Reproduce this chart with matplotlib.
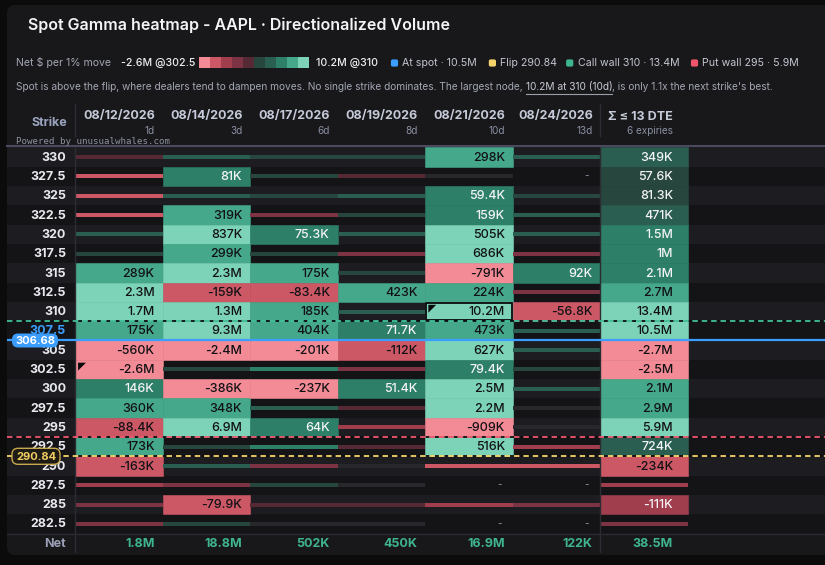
import numpy as np
import matplotlib.pyplot as plt
from matplotlib.colors import ListedColormap, BoundaryNorm
from matplotlib.patches import FancyBboxPatch, Rectangle, Polygon

plt.rcParams['font.family'] = ['Inter', 'DejaVu Sans']

K = 1e3
M = 1e6

# strikes top to bottom
strikes = [330, 327.5, 325, 322.5, 320, 317.5, 315, 312.5, 310, 307.5,
           305, 302.5, 300, 297.5, 295, 292.5, 290, 287.5, 285, 282.5]
expiries = ['08/12/2026', '08/14/2026', '08/17/2026', '08/19/2026', '08/21/2026', '08/24/2026']
dte = ['1d', '3d', '6d', '8d', '10d', '13d']

# net $ per 1% move, per strike (None = no contract)
exp_0812 = [-3*K, -35*K, -35*K, -35*K, 15*K, 5*K, 289*K, 2.3*M, 1.7*M, 175*K,
            -560*K, -2.6*M, 146*K, 360*K, -88.4*K, 173*K, -163*K, -18*K, -9*K, -8*K]
exp_0814 = [20*K, 81*K, 12*K, 319*K, 837*K, 299*K, 2.3*M, -159*K, 1.3*M, 9.3*M,
            -2.4*M, 5*K, -386*K, 348*K, 6.9*M, 5*K, 12*K, -9*K, -79.9*K, 4*K]
exp_0817 = [5*K, 5*K, 5*K, -10*K, 75.3*K, 6*K, 175*K, -83.4*K, 185*K, 404*K,
            -201*K, 35*K, -237*K, 15*K, 64*K, 35*K, -9*K, 4*K, -3*K, 0.5*K]
exp_0819 = [5*K, -4*K, 15*K, 5*K, 15*K, -10*K, 5*K, 423*K, 20*K, 71.7*K,
            -112*K, -10*K, 51.4*K, -3*K, -20*K, -3*K, 0.2*K, 0.3*K, -3*K, 0.2*K]
exp_0821 = [298*K, 0.1*K, 59.4*K, 159*K, 505*K, 686*K, -791*K, 224*K, 10.2*M, 473*K,
            627*K, 79.4*K, 2.5*M, 2.2*M, -909*K, 516*K, -35*K, None, -20*K, None]
exp_0824 = [15*K, None, 5*K, 20*K, 15*K, -10*K, 92*K, -10*K, -56.8*K, 15*K,
            15*K, 5*K, 15*K, 0.3*K, 0.4*K, -15*K, -30*K, None, -9*K, None]
sum_13dte = [349*K, 57.6*K, 81.3*K, 471*K, 1.5*M, 1*M, 2.08*M, 2.7*M, 13.4*M, 10.5*M,
             -2.7*M, -2.5*M, 2.12*M, 2.9*M, 5.9*M, 724*K, -234*K, -40*K, -111*K, -20*K]
net_by_col = [1.8*M, 18.8*M, 502*K, 450*K, 16.9*M, 122*K, 38.5*M]

spot = 306.68
flip = 290.84
call_wall = 310
put_wall = 295

# colour scale (-5 .. +5)
tones = ['#f28b96', '#cc5866', '#a03e4d', '#7c3343', '#562a35', '#27272c',
         '#26463e', '#2a5e50', '#2d7f67', '#45a88a', '#7dd3b8']
cmap = ListedColormap(tones)
grid_norm = BoundaryNorm([-1e12, -170e3, -25e3, -12e3, -6e3, -1e3, 1e3, 10e3, 30e3, 165e3, 490e3, 1e12], 11)
sum_norm = BoundaryNorm([-1e12, -1e6, -200e3, -30e3, -10e3, -1e3, 1e3, 200e3, 800e3, 2.1e6, 4e6, 1e12], 11)


def fmt(v):
    a = abs(v)
    s = '-' if v < 0 else ''
    if a >= 1e6:
        return s + f'{a/1e6:.1f}'.rstrip('0').rstrip('.') + 'M'
    if a >= 1e5:
        return s + f'{a/1e3:.0f}K'
    return s + f'{a/1e3:.1f}'.rstrip('0').rstrip('.') + 'K'


# layout (pixels)
W, H = 825, 565
col_w = 87.57
x_first = 75
top = 147.5
row_h = 19.3
n_rows = len(strikes)

fig = plt.figure(figsize=(W/100, H/100), dpi=100)
fig.patch.set_facecolor('#0b0b0c')

bg = fig.add_axes([0, 0, 1, 1])
bg.set_xlim(0, W)
bg.set_ylim(H, 0)
bg.axis('off')
bg.add_patch(FancyBboxPatch((7, 5), 840, 550, boxstyle='round,pad=0,rounding_size=8',
                            fc='#18181b', ec='none'))

# heatmap axes: x = column index, y = strike row index
gl, gr = 7, 825
ax = fig.add_axes([gl/W, 1 - (top + 21*row_h)/H, (gr-gl)/W, 21*row_h/H])
ax.set_xlim((gl - x_first)/col_w, (gr - x_first)/col_w)
ax.set_ylim(21, 0)
ax.axis('off')
ax.patch.set_alpha(0)
xl = ax.get_xlim()

# row stripes
rows = np.arange(n_rows)
ax.barh(rows + 0.5, xl[1] - xl[0], left=xl[0], height=1,
        color=['#1c1c21' if i % 2 == 0 else '#141417' for i in rows], lw=0)

columns = [exp_0812, exp_0814, exp_0817, exp_0819, exp_0821, exp_0824, sum_13dte]
for ci, vals in enumerate(columns):
    norm = sum_norm if ci == 6 else grid_norm
    pad = 15/col_w if ci == 6 else 8/col_w
    for ri, v in enumerate(vals):
        if v is None:
            ax.text(ci + 1 - pad - 0.04, ri + 0.5, '-', ha='right', va='center',
                    color='#8a8fa0', fontsize=7)
            continue
        idx = int(norm(v))
        c = tones[idx]
        if abs(v) >= 50*K:
            ax.barh(ri + 0.5, 1, left=ci, height=1, color=c, edgecolor=c, lw=0.4, zorder=2)
            tc = '#111114' if abs(idx - 5) >= 4 else '#f4f4f6'
            ax.text(ci + 1 - pad, ri + 0.53, fmt(v), ha='right', va='center',
                    color=tc, fontsize=9, fontweight='medium', zorder=4)
        else:
            ax.barh(ri + 0.5, 1, left=ci, height=0.21, color=c, lw=0, zorder=2)

# extremes in the expiry grid
grid = np.array([[np.nan if v is None else v for v in col] for col in columns[:6]])
cmax = np.unravel_index(np.nanargmax(grid), grid.shape)
cmin = np.unravel_index(np.nanargmin(grid), grid.shape)
ax.add_patch(Rectangle((cmax[0] + 0.012, cmax[1] + 0.06), 0.976, 0.88, fill=False,
                       ec='#0a0a0a', lw=1.3, zorder=5))
for ci, ri in (cmax, cmin):
    ax.add_patch(Polygon([(ci + 0.035, ri + 0.15), (ci + 0.125, ri + 0.15), (ci + 0.035, ri + 0.56)],
                         closed=True, fc='#0a0a0a', ec='none', zorder=5))

# separators
ax.vlines([0, 6], 0, 21, color='#2c2c33', lw=1, zorder=3)
ax.axhline(20, color='#2a2a30', lw=1, zorder=3)


def boundary(level):
    return sum(s >= level for s in strikes)


spot_row = boundary(spot) - 1
for ri, s in enumerate(strikes):
    ax.text(-9/col_w, ri + 0.53, f'{s:g}', ha='right', va='center', fontsize=9, fontweight='bold',
            color='#3b9eff' if ri == spot_row else '#e8e9ee', zorder=4)

ax.text(-9/col_w, 20.53, 'Net', ha='right', va='center', fontsize=9, fontweight='bold', color='#9aa0b6')
for ci, v in enumerate(net_by_col):
    pad = 15/col_w if ci == 6 else 8/col_w
    ax.text(ci + 1 - pad, 20.53, fmt(v), ha='right', va='center', fontsize=9,
            fontweight='bold', color='#3fb58f')

# level lines
ax.axhline(boundary(call_wall), color='#3fbf98', lw=1.3, ls=(0, (3, 2.2)), gapcolor='#0f0f11', zorder=6)
ax.axhline(boundary(put_wall), color='#f0566c', lw=1.3, ls=(0, (3, 2.2)), gapcolor='#0f0f11', zorder=6)
ax.axhline(boundary(flip), color='#f5d36a', lw=1.3, ls=(0, (3, 2.2)), gapcolor='#0f0f11', zorder=6)
ax.axhline(boundary(spot), color='#3b9eff', lw=1.6, zorder=6)

# overlay for text in pixel coordinates
ov = fig.add_axes([0, 0, 1, 1])
ov.set_xlim(0, W)
ov.set_ylim(H, 0)
ov.axis('off')
ov.patch.set_alpha(0)

# pills
sy = top + boundary(spot)*row_h
ov.add_patch(FancyBboxPatch((12, sy - 7), 46, 14, boxstyle='round,pad=0,rounding_size=6',
                            fc='#3b9eff', ec='none', zorder=8))
ov.text(35, sy + 0.5, f'{spot:.2f}', ha='center', va='center', color='white',
        fontsize=8, fontweight='bold', zorder=9)
fy = top + boundary(flip)*row_h
ov.add_patch(FancyBboxPatch((12, fy - 8), 48, 16, boxstyle='round,pad=0,rounding_size=6',
                            fc='#1d1b14', ec='#c9a94e', lw=1, zorder=8))
ov.text(36, fy + 0.5, f'{flip:.2f}', ha='center', va='center', color='#f2cd63',
        fontsize=8, fontweight='bold', zorder=9)

# title
ov.text(27.5, 25, 'Spot Gamma heatmap - AAPL · Directionalized Volume', ha='left', va='center',
        fontsize=11.5, fontweight='semibold', color='#f4f4f6')

# legend row
ly = 63
ov.text(16, ly, 'Net $ per 1% move', ha='left', va='center', fontsize=7.6, color='#a3a7b3')
ov.text(121, ly, f'{fmt(np.nanmin(grid))} @{strikes[cmin[1]]:g}', ha='left', va='center',
        fontsize=7.6, fontweight='medium', color='#f0f0f2')
legend_tones = tones[:5] + tones[6:]
ov.bar(199 + 11*np.arange(10) + 5.5, 11.4, width=11, bottom=57, color=legend_tones, lw=0)
ov.text(316, ly, f'{fmt(np.nanmax(grid))} @{strikes[cmax[1]]:g}', ha='left', va='center',
        fontsize=7.6, fontweight='medium', color='#f0f0f2')
items = [(394.5, '#3b9eff', f'At spot · {fmt(sum_13dte[spot_row])}'),
         (492.4, '#f5d36a', f'Flip {flip:.2f}'),
         (569.7, '#3fb58f', f'Call wall {call_wall} · {fmt(sum_13dte[strikes.index(call_wall)])}'),
         (694.5, '#f0566c', f'Put wall {put_wall} · {fmt(sum_13dte[strikes.index(put_wall)])}')]
for x, c, lab in items:
    ov.add_patch(FancyBboxPatch((x - 3.6, ly - 3.6), 7.2, 7.2, boxstyle='round,pad=0,rounding_size=1.8',
                                fc=c, ec='none'))
    ov.text(x + 8, ly, lab, ha='left', va='center', fontsize=7.6, color='#c3c6d0')

# subtitle with underlined node
sub_fs = 7.3
t1 = ov.text(16, 87, 'Spot is above the flip, where dealers tend to dampen moves. No single strike dominates. '
             'The largest node, ', ha='left', va='center', fontsize=sub_fs, color='#a3a7b3')
t2 = ov.annotate('10.2M at 310 (10d)', xy=(1, 0), xycoords=t1, ha='left', va='bottom',
                 fontsize=sub_fs, color='#c8cbd4')
t3 = ov.annotate(", is only 1.1x the next strike's best.", xy=(1, 0), xycoords=t2, ha='left',
                 va='bottom', fontsize=sub_fs, color='#a3a7b3')
fig.canvas.draw()
bb = t2.get_window_extent().transformed(ov.transData.inverted())
ov.plot([bb.x0, bb.x1], [94, 94], color='#9a9eaa', lw=0.8)

# header
hy1, hy2 = 116.5, 130.5
ov.text(49, 122.5, 'Strike', ha='center', va='center', fontsize=9, fontweight='bold', color='#9aa3bd')
for i, (e, d) in enumerate(zip(expiries, dte)):
    xr = x_first + (i + 1)*col_w - 7.6
    ov.text(xr, hy1, e, ha='right', va='center', fontsize=9, fontweight='bold', color='#c5cad8')
    ov.text(xr, hy2, d, ha='right', va='center', fontsize=7.2, color='#8a90a2')
ov.text(673, hy1, f'Σ ≤ {dte[-1][:-1]} DTE', ha='right', va='center', fontsize=9,
        fontweight='bold', color='#c5cad8')
ov.text(673, hy2, f'{len(expiries)} expiries', ha='right', va='center', fontsize=7.2, color='#8a90a2')
ov.vlines([x_first, x_first + 6*col_w], 103, 137, color='#2c2c33', lw=1)
ov.plot([7, W], [146.3, 146.3], color='#4a4a5c', lw=1.5)
ov.text(16, 141, 'Powered by unusualwhales.com', ha='left', va='center', fontsize=6.6,
        family='DejaVu Sans Mono', color='#8e92a0')

fig.savefig('out.png', dpi=100, facecolor=fig.get_facecolor())
